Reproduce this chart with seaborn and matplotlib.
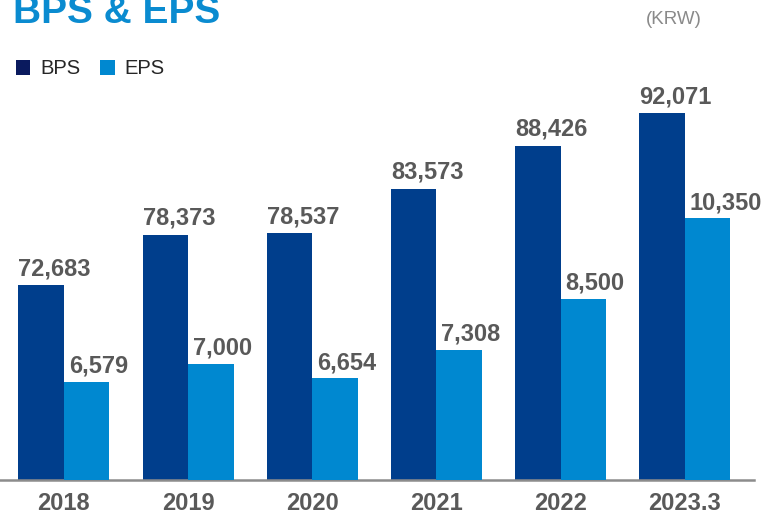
import matplotlib
matplotlib.use("Agg")
import matplotlib.pyplot as plt
from matplotlib.patches import Patch
import seaborn as sns
import pandas as pd

years = ["2018", "2019", "2020", "2021", "2022", "2023.3"]
bps = [72683, 78373, 78537, 83573, 88426, 92071]
eps = [6579, 7000, 6654, 7308, 8500, 10350]
series = ["BPS", "EPS"]

BPS_COLOR = "#003E8C"
EPS_COLOR = "#0088D0"
LEG_BPS = "#0A1A5E"
LABEL_COLOR = "#595959"

sns.set_theme(style="white")
plt.rcParams["font.family"] = ["Liberation Sans", "DejaVu Sans"]

W, H = 766, 514
fig = plt.figure(figsize=(W / 100, H / 100), dpi=100)
ax_top, ax_bot, ax_left, ax_right = 100, 480, 0, 754
ax1 = fig.add_axes([ax_left / W, 1 - ax_bot / H, (ax_right - ax_left) / W, (ax_bot - ax_top) / H])
ax2 = ax1.twinx()

df_b = pd.DataFrame({"year": years, "value": bps, "series": "BPS"})
df_e = pd.DataFrame({"year": years, "value": eps, "series": "EPS"})
pal = {"BPS": BPS_COLOR, "EPS": EPS_COLOR}
sns.barplot(data=df_b, x="year", y="value", hue="series", hue_order=series, dodge=True,
            palette=pal, width=0.733, ax=ax1, legend=False, saturation=1, linewidth=0)
sns.barplot(data=df_e, x="year", y="value", hue="series", hue_order=series, dodge=True,
            palette=pal, width=0.733, ax=ax2, legend=False, saturation=1, linewidth=0)

ax1.set_ylim(50682, 93591)
ax2.set_ylim(4309, 13087)
ax1.set_xlim(-0.514, 5.557)

for ax in (ax1, ax2):
    ax.set_ylabel("")
    ax.set_xlabel("")
    ax.set_yticks([])
    for s in ("top", "left", "right", "bottom"):
        ax.spines[s].set_visible(False)

ax1.spines["bottom"].set_visible(True)
ax1.spines["bottom"].set_color("#8C8C8C")
ax1.spines["bottom"].set_linewidth(1.8)
ax1.tick_params(axis="x", length=0, pad=9, labelsize=17, labelcolor=LABEL_COLOR)
for t in ax1.get_xticklabels():
    t.set_fontweight("bold")

bw = 0.733 / 2
for i, v in enumerate(bps):
    ax1.annotate(f"{v:,}", xy=(i - bw, v), xytext=(0, 7.2), textcoords="offset points",
                 ha="left", va="baseline", fontsize=17, fontweight="bold",
                 color=LABEL_COLOR, annotation_clip=False)
for i, v in enumerate(eps):
    ax2.annotate(f"{v:,}", xy=(i, v), xytext=(3.6, 6.8), textcoords="offset points",
                 ha="left", va="baseline", fontsize=17, fontweight="bold",
                 color=LABEL_COLOR, annotation_clip=False)

fig.text(13 / W, 1 - 23 / H, "BPS & EPS", fontsize=28, fontweight="bold",
         color="#0A8BD0", ha="left", va="baseline")
fig.text(702 / W, 1 - 20 / H, "(KRW)", fontsize=13.5, color="#8A8A8A",
         ha="right", va="center")

handles = [Patch(facecolor=LEG_BPS, edgecolor="none"), Patch(facecolor=EPS_COLOR, edgecolor="none")]
fig.legend(handles, series, loc="center left", bbox_to_anchor=(16 / W, 1 - 69 / H),
           frameon=False, ncol=2, fontsize=14.5, handlelength=0.7, handleheight=0.7,
           handletextpad=0.5, columnspacing=1.0, borderpad=0, borderaxespad=0)

fig.savefig("out.png", dpi=100)
